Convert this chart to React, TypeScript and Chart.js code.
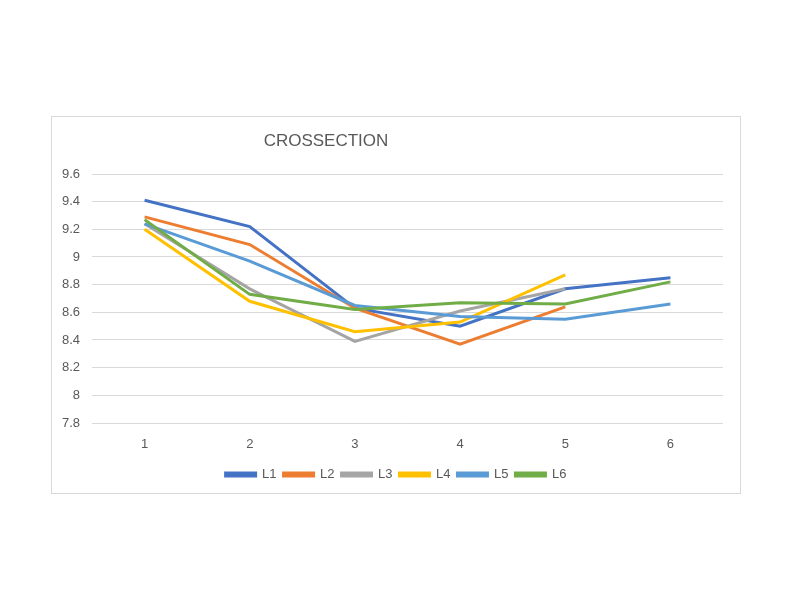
import React, { useEffect, useRef } from "react";
import { Chart, registerables } from "chart.js";

Chart.register(...registerables);

const categories = ["1", "2", "3", "4", "5", "6"];
const seriesNames = ["L1", "L2", "L3", "L4", "L5", "L6"];
const seriesColors = ["#4472C4", "#ED7D31", "#A5A5A5", "#FFC000", "#5B9BD5", "#70AD47"];
const L1 = [9.41, 9.22, 8.63, 8.5, 8.77, 8.85];
const L2 = [9.29, 9.09, 8.63, 8.37, 8.64, null];
const L3 = [9.24, 8.77, 8.39, 8.61, 8.77, null];
const L4 = [9.2, 8.68, 8.46, 8.53, 8.87, null];
const L5 = [9.24, 8.97, 8.65, 8.57, 8.55, 8.66];
const L6 = [9.27, 8.73, 8.62, 8.67, 8.66, 8.82];
const seriesValues = [L1, L2, L3, L4, L5, L6];
const yMin = 7.8;
const yMax = 9.6;
const yStep = 0.2;
const titleText = "CROSSECTION";

const FONT = "'Liberation Sans', Arial, sans-serif";

export default function App() {
  const canvasRef = useRef<HTMLCanvasElement | null>(null);

  useEffect(() => {
    const canvas = canvasRef.current;
    if (!canvas) return;
    const chart = new Chart(canvas, {
      type: "line",
      data: {
        labels: categories,
        datasets: seriesNames.map((name, i) => ({
          label: name,
          data: seriesValues[i],
          borderColor: seriesColors[i],
          backgroundColor: seriesColors[i],
          borderWidth: 3,
          pointRadius: 0,
          tension: 0,
          spanGaps: false,
          order: seriesNames.length - i,
        })),
      },
      options: {
        responsive: false,
        animation: false,
        layout: { padding: { top: 57, right: 0, bottom: 2, left: 0 } },
        plugins: {
          title: { display: false },
          tooltip: { enabled: false },
          legend: {
            position: "bottom",
            labels: {
              boxWidth: 30,
              boxHeight: 3,
              padding: 7,
              color: "#595959",
              font: { family: FONT, size: 13 },
              sort: (a: any, b: any) => a.datasetIndex - b.datasetIndex,
            },
          },
        },
        scales: {
          x: {
            offset: true,
            grid: { display: false, drawTicks: false },
            border: { display: false },
            ticks: {
              color: "#595959",
              font: { family: FONT, size: 13 },
              padding: 14,
            },
            afterFit: (s: any) => {
              s.height = 38;
            },
          },
          y: {
            min: yMin,
            max: yMax,
            grid: { color: "#d9d9d9", lineWidth: 1, drawTicks: false },
            border: { display: false },
            ticks: {
              stepSize: yStep,
              color: "#595959",
              font: { family: FONT, size: 13 },
              padding: 12,
              callback: (v: any) => String(parseFloat(Number(v).toFixed(1))),
            },
            afterFit: (s: any) => {
              s.width = 40;
            },
          },
          yRight: {
            type: "linear",
            position: "right",
            display: true,
            grid: { display: false, drawTicks: false },
            border: { display: false },
            ticks: { display: false },
            afterFit: (s: any) => {
              s.width = 17;
            },
          },
        },
      },
    });
    return () => chart.destroy();
  }, []);

  return (
    <div
      style={{
        position: "absolute",
        left: 51,
        top: 116,
        width: 688,
        height: 376,
        border: "1px solid #d9d9d9",
        background: "#fff",
      }}
    >
      <div
        style={{
          position: "absolute",
          left: 0,
          width: 548,
          top: 13,
          textAlign: "center",
          fontFamily: FONT,
          fontSize: 17,
          color: "#595959",
          lineHeight: "22px",
        }}
      >
        {titleText}
      </div>
      <canvas ref={canvasRef} width={688} height={376} style={{ display: "block" }} />
    </div>
  );
}
